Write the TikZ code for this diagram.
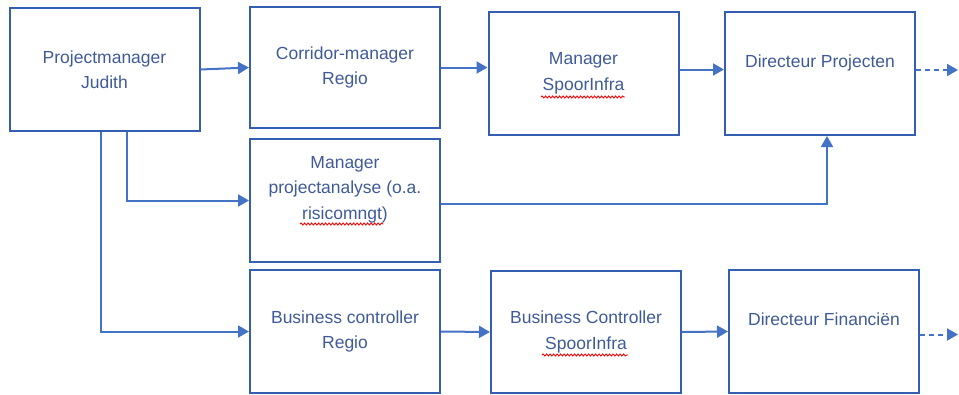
\documentclass[tikz,border=0pt]{standalone}
\usepackage{fontspec}
\setmainfont{Liberation Sans}
\usetikzlibrary{arrows.meta,calc,decorations.pathmorphing}
\definecolor{BoxClr}{RGB}{52,94,178}
\definecolor{LinkClr}{RGB}{68,114,196}
\definecolor{TextClr}{RGB}{62,90,152}

\begin{document}
\begin{tikzpicture}[x=1pt,y=-1pt,
  role/.style={draw=BoxClr,line width=2pt,minimum width=190pt,minimum height=123pt,inner sep=0pt,
    text=TextClr,align=center,font=\fontsize{17.5}{25.5}\selectfont},
  link/.style={draw=LinkClr,line width=2pt,-{Triangle[length=11pt,width=12pt]}},
  further/.style={link,dash pattern=on 5pt off 4pt},
  typo/.style={draw=red,line width=0.9pt,decorate,decoration={snake,amplitude=1pt,segment length=3.5pt}}]
\useasboundingbox (0,0) rectangle (959,394);

\node[role] (PM) at (104.5,69.5) {Projectmanager\\Judith};
\node[role,minimum height=121pt] (CM) at (345,67.5) {Corridor-manager\\Regio};
\node[role] (MSI) at (583.5,73.5) {Manager\\SpoorInfra};
\node[role] (DP) at (820,73.5) {Directeur Projecten\\~};
\node[role] (MPA) at (345,200.5) {Manager\\projectanalyse (o.a.\\risicomngt)\\~};
\node[role] (BCR) at (345,331.5) {Business controller\\Regio};
\node[role,minimum height=122pt] (BCS) at (586,332) {Business Controller\\SpoorInfra};
\node[role] (DF) at (824,331.5) {Directeur Financiën\\~};

\coordinate (DPnext) at (958,70);
\coordinate (DFnext) at (958,334.5);

\draw[link] (PM.east) -- (CM.west);
\draw[link] (CM.east) -- (CM.east -| MSI.west);
\draw[link] ([yshift=4pt]MSI.east) -- ([yshift=4pt]DP.west);
\draw[further] (DP.east |- DPnext) -- (DPnext);

\draw[link] ([xshift=22.5pt]PM.south) |- (MPA.west);
\draw[link] ([xshift=-3.5pt]PM.south) |- (BCR.west);
\draw[link] ([yshift=-3.5pt]MPA.east) -| ([xshift=7pt]DP.south);

\draw[link] (BCR.east) -- (BCS.west);
\draw[link] (BCS.east) -- (DF.west);
\draw[further] (DF.east |- DFnext) -- (DFnext);

\draw[typo] ($(MSI.center)+(-42.5,23.5)$) -- ++(84,0);
\draw[typo] ($(BCS.center)+(-44,23)$) -- ++(86,0);
\draw[typo] ($(MPA.center)+(-45,23.5)$) -- ++(83,0);

\end{tikzpicture}
\end{document}
